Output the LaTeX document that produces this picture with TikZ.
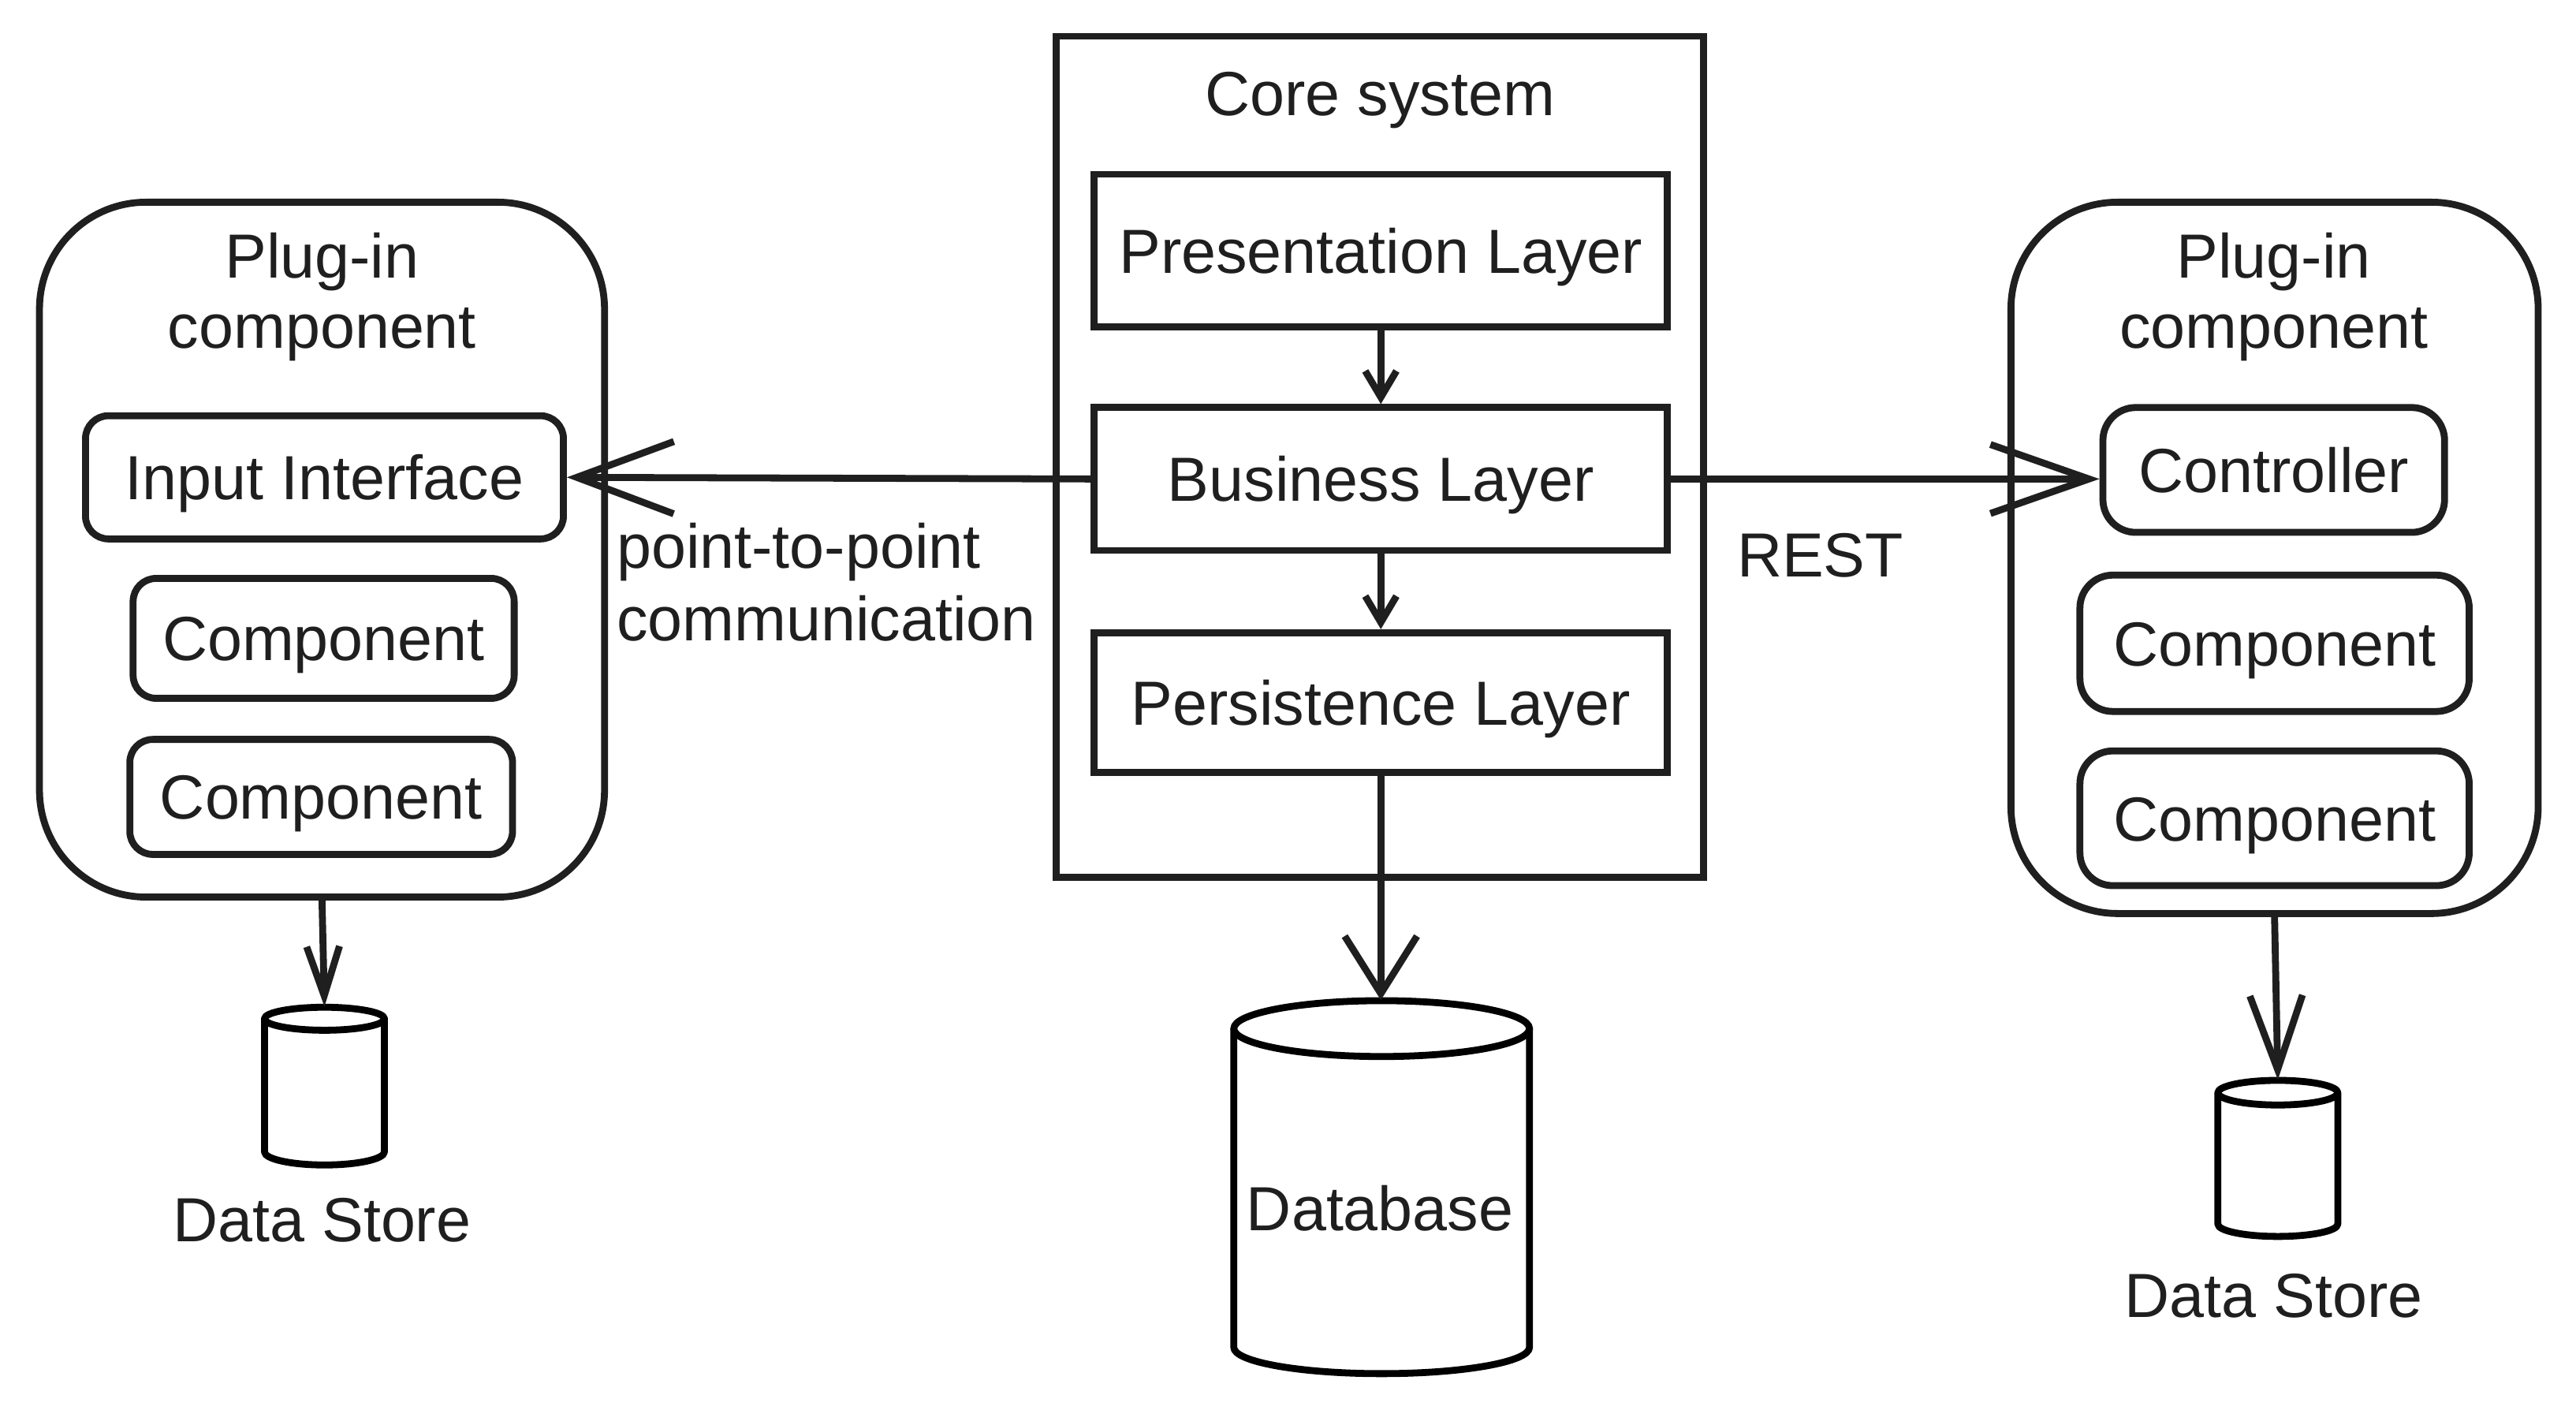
\documentclass[tikz,border=0pt]{standalone}
\usepackage{fontspec}
\setmainfont{Liberation Sans}
\usetikzlibrary{arrows.meta}
\definecolor{ink}{HTML}{1F1F1F}
\begin{document}
\begin{tikzpicture}[x=0.02cm, y=-0.02cm,
  every node/.style={font=\fontsize{21.6pt}{26pt}\selectfont, text=ink},
  lbl/.style={inner sep=0pt},
  txt/.style={inner sep=0pt, text height=15.5pt, text depth=0pt},
  lay/.style={txt, draw=ink, line width=2.4pt, minimum width=6.98cm},
  rbox/.style={txt, draw=ink, line width=2.4pt, rounded corners=0.28cm},
  plug/.style={draw=ink, line width=2.4pt, rounded corners=1.3cm, inner sep=0pt},
  conn/.style={draw=ink, line width=2.4pt, line cap=round, line join=round},
  cyl/.style={draw=black, line width=2.4pt, line cap=round, line join=round, fill=white},
  hole/.style={inner sep=0pt}
]
\useasboundingbox (0,0) rectangle (1568,867);

% ---------- Core system ----------
\node[draw=ink, line width=2.4pt, inner sep=0pt, minimum width=7.88cm, minimum height=10.24cm] (core) at (840,278) {};
\node[lbl, anchor=base] (coret) at (840,70.5) {Core system};
\node[lay, minimum height=1.86cm] (pres) at (840.5,152.5) {Presentation Layer};
\node[lay, minimum height=1.74cm] (bus) at (840.5,291.5) {Business Layer};
\node[lay, minimum height=1.70cm] (pers) at (840.5,427.5) {Persistence Layer};

% ---------- Left plug-in ----------
\node[plug, minimum width=6.88cm, minimum height=8.46cm] (lplug) at (196,334.5) {};
\node[lbl, anchor=base] (lplugt1) at (196,169) {Plug-in};
\node[lbl, anchor=base] (lplugt2) at (196,212) {component};
\node[rbox, minimum width=5.82cm, minimum height=1.50cm] (inp) at (197.5,290.5) {Input Interface};
\node[rbox, minimum width=4.64cm, minimum height=1.46cm] (lc1) at (197,388.5) {Component};
\node[rbox, minimum width=4.66cm, minimum height=1.40cm] (lc2) at (195.5,485) {Component};

% ---------- Right plug-in ----------
\node[plug, minimum width=6.42cm, minimum height=8.66cm] (rplug) at (1384.5,339.5) {};
\node[lbl, anchor=base] (rplugt1) at (1384,169) {Plug-in};
\node[lbl, anchor=base] (rplugt2) at (1384,212) {component};
\node[rbox, rounded corners=0.4cm, minimum width=4.16cm, minimum height=1.52cm] (ctrl) at (1384,286) {Controller};
\node[rbox, rounded corners=0.4cm, minimum width=4.74cm, minimum height=1.66cm] (rc1) at (1384.5,391.5) {Component};
\node[rbox, rounded corners=0.4cm, minimum width=4.74cm, minimum height=1.64cm] (rc2) at (1384.5,498) {Component};

% ---------- Cylinders ----------
% Database
\draw[cyl] (751,626) -- (751,820) arc[start angle=180, end angle=360, x radius=1.8cm, y radius=0.32cm] -- (931,626);
\draw[cyl] (841,626) ellipse [x radius=1.8cm, y radius=0.34cm];
\node[hole, minimum width=3.6cm, minimum height=4.54cm] (db) at (841,722.5) {};
\node[lbl, anchor=base] (dbt) at (840,749) {Database};
% left data store
\draw[cyl] (161,620) -- (161,701) arc[start angle=180, end angle=360, x radius=0.73cm, y radius=0.16cm] -- (234,620);
\draw[cyl] (197.5,620) ellipse [x radius=0.73cm, y radius=0.14cm];
\node[hole, minimum width=1.46cm, minimum height=1.92cm] (lds) at (197.5,661) {};
\node[lbl, anchor=base] (ldst) at (196,755.5) {Data Store};
% right data store
\draw[cyl] (1350,665) -- (1350,745) arc[start angle=180, end angle=360, x radius=0.73cm, y radius=0.15cm] -- (1423,665);
\draw[cyl] (1386.5,665) ellipse [x radius=0.73cm, y radius=0.15cm];
\node[hole, minimum width=1.46cm, minimum height=1.90cm] (rds) at (1386.5,705) {};
\node[lbl, anchor=base] (rdst) at (1384,801.5) {Data Store};

% ---------- Labels ----------
\node[lbl, anchor=base west] (p2p1) at (375,346) {point-to-point};
\node[lbl, anchor=base west] (p2p2) at (375,390) {communication};
\node[lbl, anchor=base west] (rest) at (1057,351) {REST};

% ---------- Connectors ----------
\draw[conn, -{Straight Barb[length=0.32cm, width=0.38cm]}] (pres) -- (bus);
\draw[conn, -{Straight Barb[length=0.32cm, width=0.38cm]}] (bus) -- (pers);
\draw[conn, -{Straight Barb[length=1.18cm, width=0.88cm]}] (bus.west) -- (inp.east);
\draw[conn, -{Straight Barb[length=1.2cm, width=0.84cm]}] (bus.east) -- (ctrl.west |- bus.east);
\draw[conn, -{Straight Barb[length=0.7cm, width=0.88cm]}] (pers.south) -- (pers.south |- db.north);
\draw[conn, -{Straight Barb[length=0.6cm, width=0.4cm]}] (lplug.south) -- (lds.north);
\draw[conn, -{Straight Barb[length=0.9cm, width=0.64cm]}] (rplug.south) -- (rds.north);
\end{tikzpicture}
\end{document}
